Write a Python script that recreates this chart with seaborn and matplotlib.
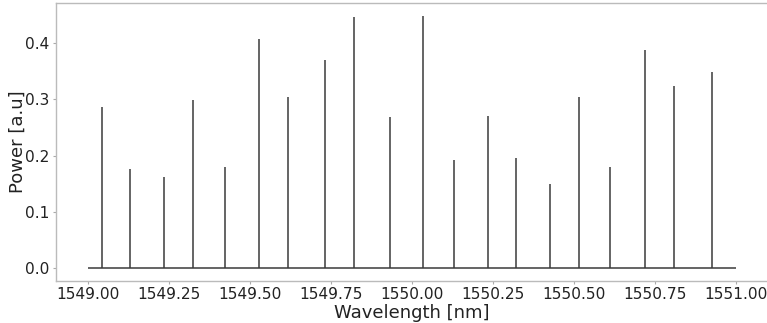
import matplotlib
matplotlib.use("Agg")
import matplotlib.pyplot as plt
import seaborn as sns
import numpy as np

# Spectral line positions (nm) and their powers (arbitrary units)
wavelength = [1549.042, 1549.128, 1549.235, 1549.322, 1549.422,
              1549.528, 1549.617, 1549.732, 1549.821, 1549.933,
              1550.032, 1550.130, 1550.235, 1550.320, 1550.426,
              1550.516, 1550.612, 1550.720, 1550.808, 1550.925]
power = [0.286, 0.177, 0.162, 0.298, 0.180,
         0.407, 0.303, 0.369, 0.445, 0.268,
         0.448, 0.192, 0.270, 0.196, 0.149,
         0.303, 0.180, 0.387, 0.323, 0.348]

# Span of the zero baseline
band = [1549.0, 1551.0]
xticks = [1549.00, 1549.25, 1549.50, 1549.75, 1550.00,
          1550.25, 1550.50, 1550.75, 1551.00]
yticks = [0.0, 0.1, 0.2, 0.3, 0.4]

sns.set_theme(style="ticks")
plt.rcParams["font.family"] = ["DejaVu Sans"]

fig = plt.figure(figsize=(7.67, 3.23), dpi=100)
ax = fig.add_axes([0.073, 0.130, 0.9287, 0.8607])

line_color = "#3a3a3a"
ax.vlines(wavelength, 0, power, color=line_color, linewidth=1.1)
ax.hlines(0, band[0], band[1], color=line_color, linewidth=1.1)

ax.set_xlim(band[0] - 0.1, band[1] + 0.1)
ax.set_ylim(-0.0224, 0.4704)
ax.set_xticks(xticks)
ax.set_xticklabels([f"{t:.2f}" for t in xticks])
ax.set_yticks(yticks)
ax.set_yticklabels([f"{t:.1f}" for t in yticks])

ax.set_xlabel("Wavelength [nm]", fontsize=13, color="#222222", labelpad=1)
ax.set_ylabel("Power [a.u]", fontsize=13, color="#222222", labelpad=-1)
ax.tick_params(axis="both", labelsize=11.1, length=2.5, width=0.8,
               color="#aaaaaa", labelcolor="#222222", pad=2)

for side in ["left", "top", "bottom"]:
    ax.spines[side].set_visible(True)
    ax.spines[side].set_color("#bbbbbb")
    ax.spines[side].set_linewidth(1.0)
ax.spines["right"].set_visible(False)

fig.savefig("out.png", dpi=100)
